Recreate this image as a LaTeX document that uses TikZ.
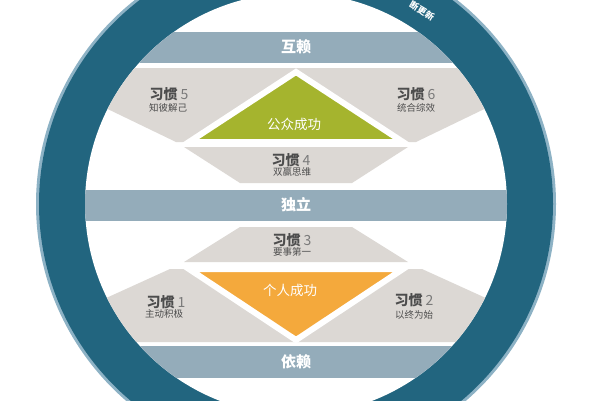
\documentclass[tikz,border=0pt]{standalone}
\usepackage{fontspec}
\setmainfont{Noto Sans CJK SC}
\definecolor{ringblue}{HTML}{22657F}
\definecolor{rimblue}{HTML}{8DB2C5}
\definecolor{bandblue}{HTML}{94ACBA}
\definecolor{piecegrey}{HTML}{DCD8D4}
\definecolor{publicgreen}{HTML}{A5B42E}
\definecolor{privateorange}{HTML}{F4A93C}
\definecolor{habitgrey}{HTML}{4D4D4D}
\definecolor{numgrey}{HTML}{7A7A7A}
\tikzset{
BAND/.style={fill=bandblue},
BANDTEXT/.style={text=white, inner sep=0pt, font=\bfseries\fontsize{15}{15}\selectfont},
PIECE/.style={fill=piecegrey},
SUCCESS/.style={draw=white, line width=6pt, line join=miter, fill=#1},
SUCCESSTEXT/.style={text=white, inner sep=0pt, font=\fontsize{13.5}{13.5}\selectfont},
HABIT/.style={text=habitgrey, inner sep=0pt, font=\bfseries\fontsize{14}{14}\selectfont},
MOTTO/.style={text=habitgrey, inner sep=0pt, font=\fontsize{9.5}{9.5}\selectfont},
}
\begin{document}
\begin{tikzpicture}[x=1pt, y=-1pt]
	\useasboundingbox (0,0) rectangle (600,400);
	\coordinate (c) at (296,204);
	% ring
	\fill[rimblue] (c) circle[radius=260pt];
	\fill[ringblue] (c) circle[radius=257pt];
	\fill[white] (c) circle[radius=211pt];
	\node[text=white, inner sep=0pt, rotate=-31, font=\bfseries\fontsize{9}{9}\selectfont] (renew) at (422,11) {断更新};
	\begin{scope}
	\clip (c) circle[radius=211pt];
	% bands
	\path[BAND] (0,32) rectangle (600,63);
	\path[BAND] (0,190) rectangle (600,221);
	\path[BAND] (0,346) rectangle (600,378);
	% public victory
	\path[PIECE] (60,68) -- (296,68) -- (296,142) -- (176,142) -- (60,86) -- cycle;
	\path[PIECE] (532,68) -- (296,68) -- (296,142) -- (416,142) -- (532,86) -- cycle;
	\path[PIECE] (184,147) -- (408,147) -- (352,183) -- (240,183) -- cycle;
	\path[SUCCESS=publicgreen] (296,72) -- (403,142) -- (189,142) -- cycle;
	% private victory
	\path[PIECE] (240,227) -- (352,227) -- (408,262) -- (184,262) -- cycle;
	\path[PIECE] (60,319) -- (170,269) -- (296,269) -- (296,342) -- (60,342) -- cycle;
	\path[PIECE] (532,319) -- (422,269) -- (296,269) -- (296,342) -- (532,342) -- cycle;
	\path[SUCCESS=privateorange] (189,269) -- (403,269) -- (296,340) -- cycle;
	\end{scope}
	% labels
	\node[BANDTEXT] (interdep) at (296,47) {互赖};
	\node[BANDTEXT] (indep) at (296,205) {独立};
	\node[BANDTEXT] (dep) at (296,362) {依赖};
	\node[SUCCESSTEXT] (public) at (294,124) {公众成功};
	\node[SUCCESSTEXT] (private) at (290,290) {个人成功};
	\node[HABIT] (h5) at (169,94) {习惯 {\mdseries\color{numgrey}5}};
	\node[MOTTO] (m5) at (168,108) {知彼解己};
	\node[HABIT] (h6) at (416,94) {习惯 {\mdseries\color{numgrey}6}};
	\node[MOTTO] (m6) at (416,108) {统合综效};
	\node[HABIT] (h4) at (291,160) {习惯 {\mdseries\color{numgrey}4}};
	\node[MOTTO] (m4) at (292,172) {双赢思维};
	\node[HABIT] (h3) at (292,240) {习惯 {\mdseries\color{numgrey}3}};
	\node[MOTTO] (m3) at (292,252) {要事第一};
	\node[HABIT] (h1) at (166,302) {习惯 {\mdseries\color{numgrey}1}};
	\node[MOTTO] (m1) at (164,314) {主动积极};
	\node[HABIT] (h2) at (414,300) {习惯 {\mdseries\color{numgrey}2}};
	\node[MOTTO] (m2) at (414,315) {以终为始};
\end{tikzpicture}
\end{document}
